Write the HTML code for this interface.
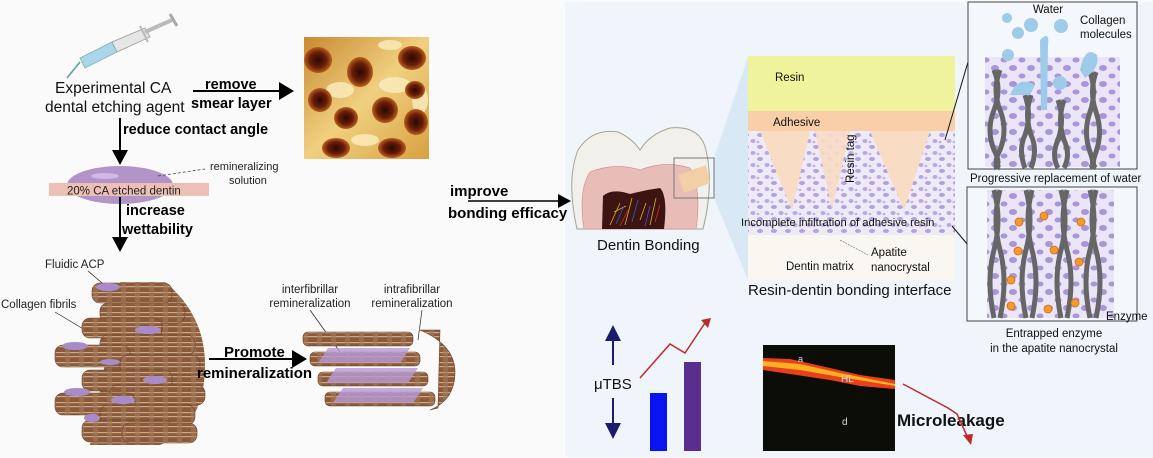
<!DOCTYPE html>
<html><head><meta charset="utf-8"><style>
html,body{margin:0;padding:0;background:#fafafa;}
svg{display:block;font-family:"Liberation Sans",sans-serif;}
</style></head><body>
<svg width="1153" height="458" viewBox="0 0 1153 458" xmlns="http://www.w3.org/2000/svg">
<defs>
<pattern id="dots" width="14" height="12" patternUnits="userSpaceOnUse">
<rect width="14" height="12" fill="#efeaf8"/>
<ellipse cx="4" cy="3" rx="3" ry="2" fill="#b3a3dc"/>
<ellipse cx="11" cy="9" rx="2.5" ry="2" fill="#b9a9e0"/>
<ellipse cx="2" cy="10" rx="1.5" ry="1.2" fill="#c3b6e6"/>
</pattern>
<pattern id="dots2" width="18" height="16" patternUnits="userSpaceOnUse">
<rect width="18" height="16" fill="#ebe5f8"/>
<ellipse cx="5" cy="4" rx="4" ry="3" fill="#a995da"/>
<ellipse cx="14" cy="12" rx="3.5" ry="2.5" fill="#a995da"/>
</pattern>
<pattern id="fib" width="14" height="10" patternUnits="userSpaceOnUse">
<rect width="14" height="10" fill="#8b5a3a"/>
<rect x="0" y="2" width="14" height="1.2" fill="#c9a98c"/>
<rect x="0" y="6" width="14" height="1.2" fill="#c9a98c"/>
<rect x="9" y="0" width="5" height="10" fill="#a37a5a" opacity=".6"/>
</pattern>
<linearGradient id="afm" x1="0" y1="0" x2="1" y2="1">
<stop offset="0" stop-color="#c88a30"/><stop offset=".5" stop-color="#f0d080"/><stop offset="1" stop-color="#d8a040"/>
</linearGradient>
<radialGradient id="pit"><stop offset="0" stop-color="#2a0804"/><stop offset=".6" stop-color="#6a1e08"/><stop offset="1" stop-color="#b8601e"/></radialGradient>
</defs>

<rect x="0" y="0" width="1153" height="458" fill="#fafafa"/>
<rect x="565" y="2" width="588" height="455" fill="#eff5fb"/>

<!-- syringe -->
<g>
<line x1="80" y1="62" x2="67" y2="78" stroke="#5aa0a0" stroke-width="1.5"/>
<polygon points="80,58 112,42 117,52 85,68" fill="#a9d6ea" stroke="#8aa" stroke-width=".8"/>
<polygon points="112,42 145,28 150,37 117,52" fill="#e6e6e6" stroke="#999" stroke-width=".8"/>
<line x1="145" y1="32" x2="172" y2="20" stroke="#bbb" stroke-width="4"/>
<line x1="170" y1="14" x2="177" y2="26" stroke="#aaa" stroke-width="3"/>
<line x1="140" y1="26" x2="148" y2="42" stroke="#bbb" stroke-width="2"/>
</g>
<text x="55" y="93" font-size="15.5" fill="#111">Experimental CA</text>
<text x="45" y="112" font-size="15.5" fill="#111">dental etching agent</text>
<text x="205" y="89" font-size="14.5" font-weight="bold">remove</text>
<text x="191" y="108" font-size="14.5" font-weight="bold">smear layer</text>
<line x1="193" y1="91" x2="282" y2="91" stroke="#000" stroke-width="2"/>
<polygon points="279,82 294,91 279,100" fill="#000"/>

<!-- AFM -->
<rect x="304" y="37" width="125" height="122" fill="url(#afm)"/>
<g fill="#fbeec0" opacity=".8">
<ellipse cx="340" cy="90" rx="14" ry="8"/><ellipse cx="395" cy="85" rx="16" ry="8"/><ellipse cx="420" cy="100" rx="8" ry="14"/><ellipse cx="365" cy="140" rx="14" ry="6"/><ellipse cx="390" cy="45" rx="12" ry="5"/>
</g>
<g fill="url(#pit)">
<ellipse cx="318" cy="60" rx="14" ry="13"/><ellipse cx="360" cy="72" rx="13" ry="15"/><ellipse cx="412" cy="58" rx="14" ry="12"/>
<ellipse cx="320" cy="100" rx="12" ry="12"/><ellipse cx="346" cy="118" rx="12" ry="11"/><ellipse cx="385" cy="110" rx="13" ry="13"/>
<ellipse cx="416" cy="122" rx="12" ry="13"/><ellipse cx="415" cy="90" rx="10" ry="9"/><ellipse cx="336" cy="148" rx="14" ry="10"/><ellipse cx="392" cy="148" rx="14" ry="10"/>
</g>

<line x1="120" y1="118" x2="120" y2="152" stroke="#000" stroke-width="2"/>
<polygon points="112,150 128,150 120,165" fill="#000"/>
<text x="123" y="134" font-size="14.5" font-weight="bold">reduce contact angle</text>

<ellipse cx="120" cy="185" rx="53" ry="19" fill="#b394c8"/>
<ellipse cx="105" cy="176" rx="14" ry="3" fill="#d2b8e6"/>
<rect x="49" y="183" width="160" height="13" fill="#ecc0b6"/>
<text x="67" y="194.5" font-size="11.5" fill="#222">20% CA etched dentin</text>
<line x1="158" y1="176" x2="205" y2="169" stroke="#333" stroke-width=".7" stroke-dasharray="3,2"/>
<text x="210" y="170" font-size="11" fill="#222">remineralizing</text>
<text x="229" y="184" font-size="11" fill="#222">solution</text>

<line x1="120" y1="197" x2="120" y2="240" stroke="#000" stroke-width="2"/>
<polygon points="112,237 128,237 120,252" fill="#000"/>
<text x="126" y="215" font-size="14.5" font-weight="bold">increase</text>
<text x="122" y="234" font-size="14.5" font-weight="bold">wettability</text>

<text x="45" y="268" font-size="11.5" fill="#222">Fluidic ACP</text>
<text x="1" y="308" font-size="11.5" fill="#222">Collagen fibrils</text>
<line x1="88" y1="271" x2="108" y2="288" stroke="#222" stroke-width=".7"/>
<line x1="55" y1="312" x2="85" y2="330" stroke="#222" stroke-width=".7"/>

<!-- collagen bundle -->
<g>
<path d="M120,282 L165,282 Q205,315 205,365 Q205,425 160,445 L90,445 Z" fill="url(#fib)"/>
<g fill="url(#fib)" stroke="#6b4228" stroke-width=".6">
<rect x="92" y="283" width="80" height="20" rx="8"/>
<rect x="100" y="303" width="85" height="20" rx="8"/>
<rect x="82" y="318" width="80" height="20" rx="8"/>
<rect x="100" y="335" width="95" height="20" rx="8"/>
<rect x="55" y="345" width="75" height="22" rx="8"/>
<rect x="120" y="355" width="80" height="20" rx="8"/>
<rect x="82" y="370" width="90" height="21" rx="8"/>
<rect x="110" y="385" width="95" height="20" rx="8"/>
<rect x="55" y="393" width="80" height="22" rx="8"/>
<rect x="100" y="405" width="95" height="20" rx="8"/>
<rect x="82" y="420" width="90" height="22" rx="8"/>
<rect x="122" y="423" width="75" height="20" rx="8"/>
</g>
<g fill="#a98bc9">
<ellipse cx="108" cy="287" rx="12" ry="4"/><ellipse cx="148" cy="330" rx="13" ry="4"/><ellipse cx="75" cy="346" rx="13" ry="4"/>
<ellipse cx="110" cy="362" rx="10" ry="3"/><ellipse cx="155" cy="380" rx="12" ry="4"/><ellipse cx="77" cy="392" rx="13" ry="4"/>
<ellipse cx="123" cy="400" rx="12" ry="4"/><ellipse cx="92" cy="418" rx="8" ry="4"/>
</g>
</g>

<line x1="209" y1="359" x2="295" y2="359" stroke="#000" stroke-width="2"/>
<polygon points="292,350 307,359 292,368" fill="#000"/>
<text x="224" y="357" font-size="15" font-weight="bold">Promote</text>
<text x="197" y="378" font-size="15" font-weight="bold">remineralization</text>

<!-- remin figure -->
<text x="310" y="293" font-size="11.5" text-anchor="middle" fill="#222">interfibrillar</text>
<text x="310" y="307" font-size="11.5" text-anchor="middle" fill="#222">remineralization</text>
<text x="412" y="293" font-size="11.5" text-anchor="middle" fill="#222">intrafibrillar</text>
<text x="412" y="307" font-size="11.5" text-anchor="middle" fill="#222">remineralization</text>
<line x1="310" y1="310" x2="340" y2="352" stroke="#222" stroke-width=".7"/>
<line x1="422" y1="310" x2="418" y2="340" stroke="#222" stroke-width=".7"/>
<g fill="url(#fib)" stroke="#6b4228" stroke-width=".6">
<rect x="303" y="332" width="110" height="14" rx="5"/>
<rect x="310" y="352" width="110" height="14" rx="5"/>
<rect x="318" y="372" width="110" height="14" rx="5"/>
<rect x="325" y="392" width="110" height="14" rx="5"/>
<path d="M420,330 Q455,345 455,372 Q455,400 430,410 L438,408 L440,330Z"/>
</g>
<g fill="#b79ad6" opacity=".8">
<polygon points="318,363 400,363 410,348 328,348"/>
<polygon points="326,383 408,383 418,368 336,368"/>
<polygon points="333,403 413,403 423,388 343,388"/>
</g>

<!-- improve -->
<text x="450" y="196" font-size="15" font-weight="bold">improve</text>
<line x1="468" y1="201" x2="562" y2="201" stroke="#000" stroke-width="1.5"/>
<polygon points="558,194 571,201 558,208" fill="#000"/>
<text x="448" y="218" font-size="15" font-weight="bold">bonding efficacy</text>

<!-- tooth -->
<polygon points="714,158 748,57 748,280 714,198" fill="#d8e9f5"/>
<path d="M577,229 Q566,180 578,150 Q592,128 618,132 Q632,138 640,150 Q650,134 670,128 Q700,125 706,150 Q714,185 703,229 Z" fill="#f1f0ea" stroke="#a9a48c" stroke-width="1"/>
<path d="M584,229 Q578,190 590,172 Q615,162 640,170 Q665,160 690,168 Q702,190 696,229 Z" fill="#e9bdb7" stroke="#c88" stroke-width=".6"/>
<path d="M602,229 L603,196 Q612,188 630,194 Q645,190 660,188 Q668,196 664,229 Z" fill="#3d1412"/>
<path d="M610,225 L620,203 M625,225 L632,198 M640,220 L646,203 M650,225 L656,198 M614,212 L626,206" stroke="#d8b030" stroke-width=".8"/>
<path d="M616,224 L624,206 M645,226 L650,206 M632,222 L638,200" stroke="#3060d0" stroke-width=".8"/>
<path d="M620,226 L628,210 M655,222 L660,205" stroke="#d03020" stroke-width=".8"/>
<polygon points="678,175 706,165 710,183 684,193" fill="#f2cfa6"/>
<rect x="674" y="158" width="40" height="40" fill="none" stroke="#777" stroke-width="1"/>
<text x="597" y="250" font-size="15" fill="#111">Dentin Bonding</text>

<!-- interface -->
<rect x="748" y="56" width="207" height="56" fill="#eef39c"/>
<rect x="748" y="111" width="207" height="20" fill="#f8cfa8"/>
<rect x="748" y="131" width="207" height="104" fill="url(#dots)"/>
<polygon points="760,131 810,131 792,210" fill="#f8dcc4"/>
<polygon points="815,131 850,131 832,210" fill="#f8dcc4" opacity=".9"/>
<polygon points="870,131 930,131 904,210" fill="#f8dcc4"/>
<rect x="748" y="235" width="207" height="45" fill="#faf7f0"/>
<text x="775" y="81" font-size="11.5" fill="#111">Resin</text>
<text x="773" y="126" font-size="11.5" fill="#111">Adhesive</text>
<text transform="translate(854,183) rotate(-90)" font-size="11.5" fill="#111">Resin tag</text>
<text x="741" y="226" font-size="11.2" fill="#111">Incomplete infiltration of adhesive resin</text>
<line x1="840" y1="240" x2="868" y2="255" stroke="#666" stroke-width=".6" stroke-dasharray="2,1"/>
<text x="871" y="256" font-size="11.5" fill="#111">Apatite</text>
<text x="871" y="271" font-size="11.5" fill="#111">nanocrystal</text>
<text x="786" y="270" font-size="11.5" fill="#111">Dentin matrix</text>
<text x="748" y="295" font-size="15" fill="#111">Resin-dentin bonding interface</text>

<line x1="945" y1="140" x2="968" y2="62" stroke="#111" stroke-width="1"/>
<line x1="952" y1="226" x2="968" y2="245" stroke="#111" stroke-width="1"/>

<!-- right boxes -->
<rect x="968" y="2" width="169" height="167" fill="#f4f7fb" stroke="#444" stroke-width="1"/>
<rect x="985" y="57" width="135" height="110" fill="url(#dots2)"/>
<g stroke="#666" stroke-width="5" fill="none">
<path d="M994,70 Q1002,90 994,110 Q986,130 994,150 Q1002,165 994,168"/><path d="M1000,70 Q992,90 1000,110 Q1008,130 1000,150 Q992,165 1000,168"/>
<path d="M1025,95 Q1032,115 1025,135 Q1018,150 1025,168"/><path d="M1031,95 Q1024,115 1031,135 Q1038,150 1031,168"/>
<path d="M1058,100 Q1065,120 1058,140 Q1051,155 1058,168"/><path d="M1064,100 Q1057,120 1064,140 Q1071,155 1064,168"/>
<path d="M1090,72 Q1097,92 1090,112 Q1083,132 1090,152 Q1095,165 1090,168"/><path d="M1096,72 Q1089,92 1096,112 Q1103,132 1096,152 Q1091,165 1096,168"/>
</g>
<g fill="#9fcbea">
<circle cx="1007" cy="18" r="5"/><circle cx="1031" cy="25" r="7"/><circle cx="1018" cy="33" r="6"/><circle cx="1061" cy="26" r="7"/>
<circle cx="1008" cy="55" r="6"/><circle cx="1060" cy="83" r="7"/><path d="M1040,40 Q1050,30 1048,45 L1047,110 L1041,110 Z"/>
<path d="M1080,70 Q1085,45 1097,55 Q1100,68 1085,78 Z"/><path d="M1010,95 Q1018,75 1035,85 L1030,95 Z"/>
</g>
<text x="1048" y="13" font-size="11.5" text-anchor="middle" fill="#111">Water</text>
<text x="1080" y="24" font-size="11.5" fill="#111">Collagen</text>
<text x="1080" y="38" font-size="11.5" fill="#111">molecules</text>
<text x="970" y="182" font-size="11.5" fill="#111">Progressive replacement of water</text>

<rect x="967" y="187" width="170" height="134" fill="#f4f7fb" stroke="#444" stroke-width="1"/>
<rect x="987" y="190" width="127" height="128" fill="url(#dots2)"/>
<g stroke="#666" stroke-width="5" fill="none">
<path d="M994,190 Q1002,220 994,250 Q986,280 994,318"/><path d="M1000,190 Q992,220 1000,250 Q1008,280 1000,318"/>
<path d="M1026,190 Q1034,220 1026,250 Q1018,280 1026,318"/><path d="M1032,190 Q1024,220 1032,250 Q1040,280 1032,318"/>
<path d="M1061,190 Q1069,220 1061,250 Q1053,280 1061,318"/><path d="M1067,190 Q1059,220 1067,250 Q1075,280 1067,318"/>
<path d="M1090,190 Q1098,220 1090,250 Q1082,280 1090,318"/><path d="M1096,190 Q1088,220 1096,250 Q1104,280 1096,318"/>
</g>
<g fill="#f29a2e" stroke="#d86a10" stroke-width=".8">
<circle cx="1019" cy="222" r="4"/><circle cx="1044" cy="216" r="4"/><circle cx="1081" cy="222" r="4"/>
<circle cx="1018" cy="251" r="4"/><circle cx="1054" cy="250" r="4"/><circle cx="1079" cy="262" r="4"/>
<circle cx="1011" cy="280" r="4"/><circle cx="1011" cy="306" r="4"/><circle cx="1048" cy="309" r="4"/><circle cx="1075" cy="303" r="4"/>
</g>
<text x="1106" y="320" font-size="11.5" fill="#111">Enzyme</text>
<text x="1054" y="337" font-size="11.5" text-anchor="middle" fill="#111">Entrapped enzyme</text>
<text x="1054" y="352" font-size="11.5" text-anchor="middle" fill="#111">in the apatite nanocrystal</text>

<!-- uTBS -->
<line x1="613" y1="338" x2="613" y2="365" stroke="#1c1c6e" stroke-width="2"/>
<polygon points="605,341 621,341 613,325" fill="#1c1c6e"/>
<line x1="613" y1="398" x2="613" y2="425" stroke="#1c1c6e" stroke-width="2"/>
<polygon points="605,423 621,423 613,439" fill="#1c1c6e"/>
<text x="594" y="389" font-size="15" fill="#111">μTBS</text>
<rect x="650" y="393" width="17" height="58" fill="#0a14f0"/>
<rect x="684" y="362" width="17" height="89" fill="#5a2d8e"/>
<polyline points="640,378 670,344 685,353 705,323" fill="none" stroke="#c0282c" stroke-width="1.5"/>
<polygon points="701,320 711,318 708,328" fill="#c0282c"/>

<!-- microleakage image -->
<rect x="763" y="345" width="132" height="106" fill="#0c0d06"/>
<polygon points="763,358 790,359 830,368 860,375 895,380 895,389 860,386 830,380 790,374 763,370" fill="#e8401a"/>
<polygon points="763,361 800,364 840,373 895,384 895,386 840,377 800,370 763,366" fill="#ffb020"/>
<text x="798" y="362" font-size="9" fill="#ddd">a</text>
<text x="841" y="382" font-size="10" fill="#ddd">HL</text>
<text x="842" y="425" font-size="10" fill="#ddd">d</text>
<text x="897" y="426" font-size="17" font-weight="bold" fill="#111">Microleakage</text>
<polyline points="903,384 948,408 957,414 968,438" fill="none" stroke="#c0282c" stroke-width="1.5"/>
<polygon points="963,435 973,434 971,445" fill="#c0282c"/>
</svg>
</body></html>
